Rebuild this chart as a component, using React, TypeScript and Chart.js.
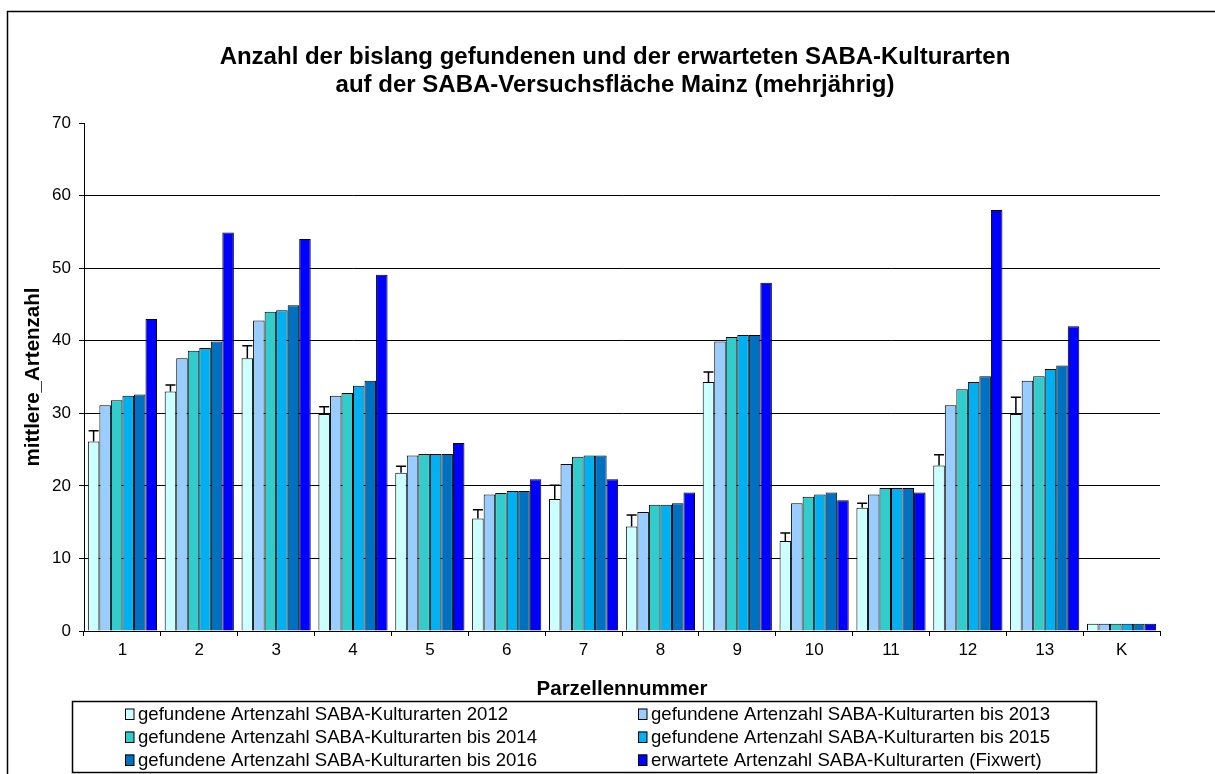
import React, { useEffect, useRef } from 'react';
import { Chart, registerables } from 'chart.js';

Chart.register(...registerables);

const categories = ['1', '2', '3', '4', '5', '6', '7', '8', '9', '10', '11', '12', '13', 'K'];
const found2012 = [26.1, 33.0, 37.6, 29.9, 21.8, 15.5, 18.2, 14.4, 34.3, 12.4, 17.0, 22.8, 29.9, 1];
const err2012 = [1.5, 0.9, 1.7, 1.0, 0.9, 1.2, 1.9, 1.6, 1.4, 1.1, 0.6, 1.5, 2.3, 0];
const found2013 = [31.1, 37.6, 42.8, 32.4, 24.2, 18.8, 23.0, 16.4, 39.9, 17.6, 18.8, 31.1, 34.5, 1];
const found2014 = [31.8, 38.6, 44.0, 32.8, 24.4, 19.0, 24.0, 17.4, 40.5, 18.5, 19.7, 33.3, 35.1, 1];
const found2015 = [32.4, 39.0, 44.2, 33.8, 24.4, 19.3, 24.2, 17.4, 40.8, 18.8, 19.7, 34.3, 36.1, 1];
const found2016 = [32.6, 39.9, 44.9, 34.5, 24.4, 19.3, 24.2, 17.6, 40.8, 19.1, 19.7, 35.1, 36.6, 1];
const expected = [43.0, 54.9, 54.0, 49.1, 25.9, 20.9, 20.9, 19.1, 48.0, 18.0, 19.1, 58.0, 42.0, 1];

const seriesLabels = [
  'gefundene Artenzahl SABA-Kulturarten 2012',
  'gefundene Artenzahl SABA-Kulturarten bis 2013',
  'gefundene Artenzahl SABA-Kulturarten bis 2014',
  'gefundene Artenzahl SABA-Kulturarten bis 2015',
  'gefundene Artenzahl SABA-Kulturarten bis 2016',
  'erwartete Artenzahl SABA-Kulturarten (Fixwert)',
];
const seriesColors = ['#CCFFFF', '#99CCFF', '#33CCCC', '#00B0F0', '#0070C0', '#0000FF'];
const titleLines = [
  'Anzahl der bislang gefundenen und der erwarteten SABA-Kulturarten',
  'auf der SABA-Versuchsfläche Mainz (mehrjährig)',
];
const yTitle = 'mittlere_Artenzahl';
const xTitle = 'Parzellennummer';

const FONT = "'Liberation Sans', Arial, sans-serif";

const framePlugin = {
  id: 'frame',
  beforeDraw(chart: any) {
    const ctx = chart.ctx;
    ctx.save();
    ctx.fillStyle = '#fff';
    ctx.fillRect(0, 0, chart.width, chart.height);
    ctx.strokeStyle = '#000';
    ctx.lineWidth = 1.5;
    ctx.strokeRect(7.5, 11.5, chart.width + 20, chart.height + 20);
    ctx.restore();
  },
};

const titlePlugin = {
  id: 'customTitle',
  afterDraw(chart: any) {
    const ctx = chart.ctx;
    ctx.save();
    ctx.fillStyle = '#000';
    ctx.font = `bold 24px ${FONT}`;
    ctx.textAlign = 'center';
    ctx.textBaseline = 'middle';
    titleLines.forEach((line, i) => ctx.fillText(line, 615, 57 + i * 28));
    ctx.restore();
  },
};

const errorBarPlugin = {
  id: 'errorBars',
  afterDatasetsDraw(chart: any) {
    const ctx = chart.ctx;
    const meta = chart.getDatasetMeta(0);
    const yScale = chart.scales.y;
    ctx.save();
    ctx.strokeStyle = '#000';
    ctx.lineWidth = 1.5;
    meta.data.forEach((bar: any, i: number) => {
      const e = err2012[i];
      if (!e) return;
      const top = yScale.getPixelForValue(found2012[i] + e);
      ctx.beginPath();
      ctx.moveTo(bar.x, bar.y);
      ctx.lineTo(bar.x, top);
      ctx.moveTo(bar.x - 5, top);
      ctx.lineTo(bar.x + 5, top);
      ctx.stroke();
    });
    ctx.restore();
  },
};

const legendPlugin = {
  id: 'boxLegend',
  afterDraw(chart: any) {
    const ctx = chart.ctx;
    ctx.save();
    ctx.strokeStyle = '#000';
    ctx.lineWidth = 1.5;
    ctx.strokeRect(72.5, 701.5, 1024, 71);
    ctx.font = `18.6px ${FONT}`;
    ctx.textBaseline = 'middle';
    ctx.textAlign = 'left';
    const colX = [125, 638];
    const rowY = [714, 737, 760];
    chart.data.datasets.forEach((ds: any, i: number) => {
      const x = colX[i % 2];
      const y = rowY[Math.floor(i / 2)];
      ctx.fillStyle = ds.backgroundColor;
      ctx.fillRect(x, y - 5.5, 9, 11);
      ctx.lineWidth = 1;
      ctx.strokeStyle = '#000';
      ctx.strokeRect(x + 0.5, y - 5, 8.5, 10.5);
      ctx.fillStyle = '#000';
      ctx.fillText(ds.label, x + 13, y + 1);
    });
    ctx.restore();
  },
};

export default function App() {
  const canvasRef = useRef<HTMLCanvasElement | null>(null);

  useEffect(() => {
    document.body.style.margin = '0';
    const canvas = canvasRef.current;
    if (!canvas) return;
    const allSeries = [found2012, found2013, found2014, found2015, found2016, expected];
    const chart = new Chart(canvas, {
      type: 'bar',
      data: {
        labels: categories,
        datasets: allSeries.map((data, i) => ({
          label: seriesLabels[i],
          data,
          backgroundColor: seriesColors[i],
          borderColor: '#000',
          borderWidth: 1,
          categoryPercentage: 0.9,
          barPercentage: 1.0,
        })),
      },
      options: {
        responsive: false,
        animation: false,
        events: [],
        layout: { padding: { left: 0, right: 55, top: 123, bottom: 72 } },
        plugins: {
          legend: { display: false },
          title: { display: false },
          tooltip: { enabled: false },
        },
        scales: {
          x: {
            afterFit: (s: any) => { s.height = 71; },
            grid: {
              display: true,
              drawOnChartArea: false,
              drawTicks: true,
              tickLength: 5,
              color: '#000',
              offset: true,
            },
            border: { display: true, color: '#000', width: 1 },
            ticks: { color: '#000', font: { family: FONT, size: 17 }, padding: 4, maxRotation: 0 },
            title: {
              display: true,
              text: xTitle,
              color: '#000',
              font: { family: FONT, size: 20.5, weight: 'bold', lineHeight: 1.2 },
              padding: { top: 0, bottom: 0 },
            },
          },
          y: {
            min: 0,
            max: 70,
            afterFit: (s: any) => { s.width = 84; },
            grid: {
              color: (c: any) => (c.tick && c.tick.value === 70 ? 'rgba(0,0,0,0)' : '#000'),
              tickColor: '#000',
              tickLength: 5,
              lineWidth: 1,
            },
            border: { display: true, color: '#000', width: 1 },
            ticks: { stepSize: 10, color: '#000', font: { family: FONT, size: 17 }, padding: 8 },
            title: {
              display: true,
              text: yTitle,
              color: '#000',
              font: { family: FONT, size: 20.5, weight: 'bold', lineHeight: 1.2 },
              padding: { top: 21, bottom: 0 },
            },
          },
        },
      },
      plugins: [framePlugin, titlePlugin, errorBarPlugin, legendPlugin],
    } as any);
    return () => chart.destroy();
  }, []);

  return (
    <div style={{ width: 1215, height: 774 }}>
      <canvas ref={canvasRef} width={1215} height={774} style={{ display: 'block' }} />
    </div>
  );
}
